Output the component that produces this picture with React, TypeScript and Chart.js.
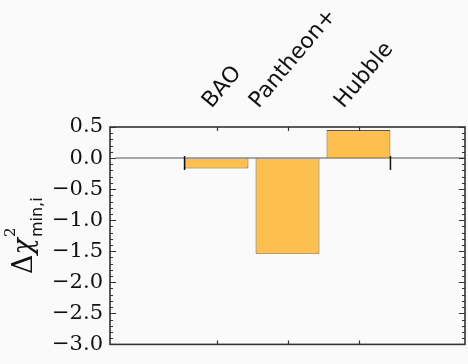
import { useEffect, useRef } from 'react';
import { Chart, registerables } from 'chart.js';

Chart.register(...registerables);

// ---- data ----
const categories = ['BAO', 'Pantheon+', 'Hubble'];
const deltaChi2 = [-0.17, -1.54, 0.45];
const yMin = -3.0;
const yMax = 0.5;
const yMajorStep = 0.5;
const yMinorStep = 0.1;

// ---- style ----
const BG = '#fafafa';
const BAR_FILL = '#fcbf50';
const BAR_EDGE = '#6e5424';
const FRAME = '#333333';
const TEXT = '#111111';
const ZERO_LINE = '#8a8a8a';
const LABEL_FONT = '22px "DejaVu Sans"';
const LABEL_ANGLE = (50 * Math.PI) / 180;

export default function App() {
  const ref = useRef<HTMLCanvasElement>(null);

  useEffect(() => {
    const canvas = ref.current!;

    const deco = {
      id: 'deco',
      beforeDraw(chart: any) {
        const ctx = chart.ctx;
        ctx.save();
        ctx.fillStyle = BG;
        ctx.fillRect(0, 0, chart.width, chart.height);
        ctx.restore();
      },
      afterDatasetsDraw(chart: any) {
        const ctx = chart.ctx;
        const { left, right, top, bottom } = chart.chartArea;
        const xs = chart.scales.x;
        const ys = chart.scales.y;
        const y0 = ys.getPixelForValue(0);
        ctx.save();

        // zero line
        ctx.strokeStyle = ZERO_LINE;
        ctx.lineWidth = 1.5;
        ctx.beginPath();
        ctx.moveTo(left + 6, y0);
        ctx.lineTo(right, y0);
        ctx.stroke();

        // markers at the outer edges of the bar group
        const bars = chart.getDatasetMeta(0).data;
        const first = bars[0];
        const last = bars[bars.length - 1];
        ctx.strokeStyle = '#111';
        ctx.lineWidth = 1.5;
        ctx.beginPath();
        ctx.moveTo(first.x - first.width / 2, y0 - 2);
        ctx.lineTo(first.x - first.width / 2, y0 + 12);
        ctx.moveTo(last.x + last.width / 2, y0 - 2);
        ctx.lineTo(last.x + last.width / 2, y0 + 12);
        ctx.stroke();

        // frame
        ctx.strokeStyle = FRAME;
        ctx.lineWidth = 1.6;
        ctx.strokeRect(left, top, right - left, bottom - top);

        // y ticks (major + minor), both sides, inward
        ctx.lineWidth = 1.2;
        ctx.strokeStyle = FRAME;
        ctx.beginPath();
        const nMinor = Math.round((yMax - yMin) / yMinorStep);
        for (let k = 0; k <= nMinor; k++) {
          const v = yMin + k * yMinorStep;
          const isMajor = Math.abs(v / yMajorStep - Math.round(v / yMajorStep)) < 1e-6;
          const len = isMajor ? 6 : 3;
          const py = Math.round(ys.getPixelForValue(v)) + 0.5;
          ctx.moveTo(left, py);
          ctx.lineTo(left + len, py);
          ctx.moveTo(right, py);
          ctx.lineTo(right - len, py);
        }
        // x ticks at categories, top and bottom, inward
        categories.forEach((_, i) => {
          const px = Math.round(xs.getPixelForValue(i + 1.5)) + 0.5;
          ctx.moveTo(px, top);
          ctx.lineTo(px, top + 4);
          ctx.moveTo(px, bottom);
          ctx.lineTo(px, bottom - 4);
        });
        ctx.stroke();

        // rotated category labels above the top axis (bbox centred on tick)
        ctx.font = LABEL_FONT;
        ctx.fillStyle = TEXT;
        ctx.textAlign = 'left';
        ctx.textBaseline = 'alphabetic';
        const c = Math.cos(LABEL_ANGLE);
        const s = Math.sin(LABEL_ANGLE);
        const labelBottom = top - 18;
        categories.forEach((name, i) => {
          const px = xs.getPixelForValue(i + 1.5) + 4;
          const m = ctx.measureText(name);
          const w = m.width;
          const asc = m.actualBoundingBoxAscent;
          const desc = m.actualBoundingBoxDescent;
          const cx = (w * c + desc * s - asc * s) / 2;
          const ox = px - cx;
          const oy = labelBottom - desc * c;
          ctx.save();
          ctx.translate(ox, oy);
          ctx.rotate(-LABEL_ANGLE);
          ctx.fillText(name, 0, 0);
          ctx.restore();
        });

        // y-axis title: Δχ²_{min,i}
        const mainFontUp = '27px "DejaVu Serif"';
        const mainFontIt = 'italic 27px "DejaVu Serif"';
        const supFont = '15px "DejaVu Serif"';
        const subFont = '16px "DejaVu Sans"';
        ctx.font = mainFontUp;
        const wDelta = ctx.measureText('Δ').width;
        ctx.font = mainFontIt;
        const wChi = ctx.measureText('χ').width;
        ctx.font = supFont;
        const wSup = ctx.measureText('2').width;
        ctx.font = subFont;
        const wSub = ctx.measureText('min,i').width;
        const total = wDelta + wChi + Math.max(wSup, wSub) + 1;
        const cy = (top + bottom) / 2;
        ctx.save();
        ctx.translate(32, cy + total / 2);
        ctx.rotate(-Math.PI / 2);
        ctx.fillStyle = TEXT;
        ctx.font = mainFontUp;
        ctx.fillText('Δ', 0, 0);
        ctx.font = mainFontIt;
        ctx.fillText('χ', wDelta, 0);
        ctx.font = supFont;
        ctx.fillText('2', wDelta + wChi + 1, -17);
        ctx.font = subFont;
        ctx.fillText('min,i', wDelta + wChi + 1, 10);
        ctx.restore();

        ctx.restore();
      },
    };

    const chart = new Chart(canvas, {
      type: 'bar',
      data: {
        datasets: [
          {
            data: deltaChi2.map((v, i) => ({ x: i + 1.5, y: v })),
            backgroundColor: BAR_FILL,
            borderColor: BAR_EDGE,
            borderWidth: 1,
            categoryPercentage: 1,
            barPercentage: 0.9,
          },
        ],
      },
      options: {
        responsive: false,
        animation: false,
        layout: { padding: { top: 127, bottom: 15, right: 3, left: 0 } },
        plugins: { legend: { display: false }, tooltip: { enabled: false } },
        scales: {
          x: {
            type: 'linear',
            min: 0,
            max: categories.length + 2,
            offset: false,
            display: false,
            ticks: { stepSize: 1 },
          },
          y: {
            min: yMin,
            max: yMax,
            afterFit: (sc: any) => {
              sc.width = 110;
            },
            grid: { display: false, drawTicks: false },
            border: { display: false },
            ticks: {
              stepSize: yMajorStep,
              padding: 7,
              color: TEXT,
              font: { family: 'DejaVu Serif', size: 21 },
              callback: (v: any) => {
                const n = Number(v);
                return (n < -1e-9 ? '\u2212' : '') + Math.abs(n).toFixed(1);
              },
            },
          },
        },
      },
      plugins: [deco],
    } as any);

    return () => chart.destroy();
  }, []);

  return (
    <div style={{ position: 'absolute', left: 0, top: 0, width: 468, height: 364 }}>
      <canvas ref={ref} width={468} height={364} style={{ display: 'block' }} />
    </div>
  );
}
